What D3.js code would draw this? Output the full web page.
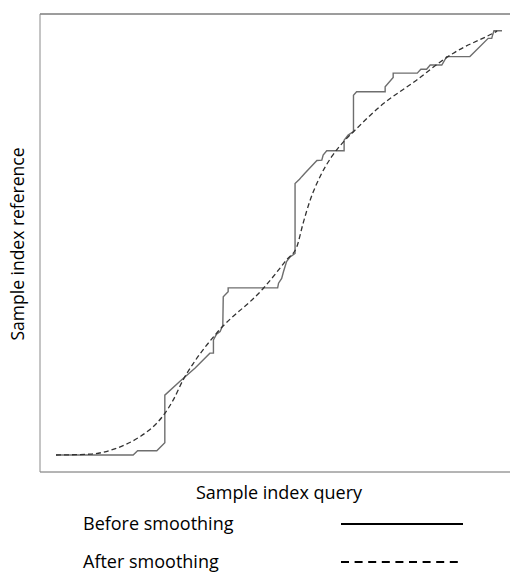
<!DOCTYPE html>
<html>
<head>
<meta charset="utf-8">
<script src="https://cdn.jsdelivr.net/npm/d3@7"></script>
<style>
  html, body { margin: 0; padding: 0; background: #fff; }
  svg { display: block; }
  text { font-family: "Open Sans", "Noto Sans", sans-serif; fill: #000; }
</style>
</head>
<body>
<svg id="chart" width="510" height="572"></svg>
<script>
// Before smoothing: step-like warping path (query index, reference index)
const rawQuery = [0, 17.3, 18.3, 22.6, 24.4, 24.4, 27.8, 31.2, 34.5, 35.3, 35.3, 36.0, 36.8, 37.4, 37.5, 38.6, 38.6, 49.7, 49.9, 50.6, 51.0, 51.7, 52.5, 53.6, 53.6, 54.6, 55.1, 55.8, 58.5, 59.6, 59.9, 60.7, 64.6, 64.6, 65.5, 66.7, 66.7, 67.4, 73.8, 73.8, 75.6, 75.6, 81.0, 81.8, 83.1, 83.9, 86.5, 87.6, 92.8, 96.9, 97.7, 97.9, 98.2, 100];
const rawRef   = [0, 0, 1.0, 1.0, 2.9, 14.1, 17.4, 20.5, 24.0, 24.0, 27.1, 28.5, 29.1, 30.6, 37.3, 38.5, 39.4, 39.4, 40.5, 41.6, 43.2, 45.6, 46.7, 47.5, 64.0, 65.0, 65.6, 66.4, 69.4, 69.5, 70.7, 71.7, 71.7, 74.2, 75.4, 76.2, 84.8, 85.6, 85.6, 86.8, 89.0, 90.0, 90.0, 90.9, 90.9, 91.9, 91.9, 93.9, 93.9, 98.2, 98.2, 99.0, 100, 100];
// After smoothing
const smoothQuery = [0, 7.6, 13.6, 18.8, 22.6, 24.4, 26.3, 28.5, 30.8, 36.0, 46.5, 51.7, 54.0, 55.4, 57.0, 59.2, 61.8, 64.8, 66.7, 72.6, 80.9, 86.8, 89.1, 98.0, 98.9];
const smoothRef   = [0, 0.2, 1.6, 4.3, 7.5, 9.8, 13.0, 17.7, 21.6, 28.7, 39.3, 46.0, 49.1, 54.6, 60.1, 65.6, 70.3, 74.2, 76.2, 82.1, 88.4, 93.1, 94.7, 99.4, 99.9];

const xTitle = "Sample index query";
const yTitle = "Sample index reference";
const legendLabels = ["Before smoothing", "After smoothing"];

const svg = d3.select("#chart");

const x = d3.scaleLinear().domain([0, 100]).range([56, 502]);
const y = d3.scaleLinear().domain([0, 100]).range([455, 30.7]);

// Frame (axes without ticks)
const frameLeft = 39.5, frameTop = 13.5, frameBottom = 471.5, frameRight = 530;
const xFrame = d3.scaleLinear().domain([0, 1]).range([frameLeft, frameRight]);
const yFrame = d3.scaleLinear().domain([0, 1]).range([frameBottom, frameTop]);

svg.append("g")
  .attr("transform", `translate(0,${frameBottom})`)
  .call(d3.axisBottom(xFrame).tickValues([]).tickSizeOuter(0))
  .call(g => g.select(".domain").attr("stroke", "#6a6a6a"));
svg.append("g")
  .attr("transform", `translate(0,${frameTop})`)
  .call(d3.axisTop(xFrame).tickValues([]).tickSizeOuter(0))
  .call(g => g.select(".domain").attr("stroke", "#3a3a3a"));
svg.append("g")
  .attr("transform", `translate(${frameLeft},0)`)
  .call(d3.axisLeft(yFrame).tickValues([]).tickSizeOuter(0))
  .call(g => g.select(".domain").attr("stroke", "#8a8a8a"));

const rawData = rawQuery.map((q, i) => [q, rawRef[i]]);
const smoothData = smoothQuery.map((q, i) => [q, smoothRef[i]]);

svg.append("path")
  .datum(rawData)
  .attr("fill", "none")
  .attr("stroke", "#6e6e6e")
  .attr("stroke-width", 1.4)
  .attr("d", d3.line().x(d => x(d[0])).y(d => y(d[1])));

svg.append("path")
  .datum(smoothData)
  .attr("fill", "none")
  .attr("stroke", "#333")
  .attr("stroke-width", 1.3)
  .attr("stroke-dasharray", "5,3")
  .attr("d", d3.line().curve(d3.curveMonotoneX).x(d => x(d[0])).y(d => y(d[1])));

// Axis titles
svg.append("text")
  .attr("x", 279).attr("y", 499)
  .attr("text-anchor", "middle")
  .attr("font-size", 18)
  .text(xTitle);

svg.append("text")
  .attr("transform", "translate(24,244) rotate(-90)")
  .attr("text-anchor", "middle")
  .attr("font-size", 17.5)
  .text(yTitle);

// Legend
const legendY = [530, 568];
svg.selectAll(".leg-label")
  .data(legendLabels)
  .enter().append("text")
  .attr("class", "leg-label")
  .attr("x", 83)
  .attr("y", (d, i) => legendY[i])
  .attr("font-size", 18)
  .text(d => d);

svg.append("line")
  .attr("x1", 341).attr("x2", 463)
  .attr("y1", 524).attr("y2", 524)
  .attr("stroke", "#000").attr("stroke-width", 2);

svg.append("line")
  .attr("x1", 341).attr("x2", 463)
  .attr("y1", 562).attr("y2", 562)
  .attr("stroke", "#000").attr("stroke-width", 2)
  .attr("stroke-dasharray", "8,5.6");
</script>
</body>
</html>
